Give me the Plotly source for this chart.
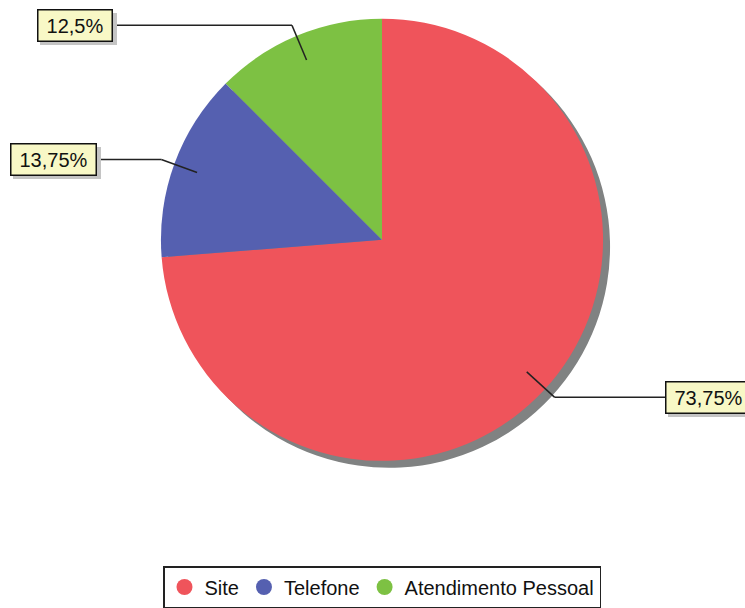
import math
import plotly.graph_objects as go

categories = ["Site", "Telefone", "Atendimento Pessoal"]
values = [73.75, 13.75, 12.5]
labels_text = ["73,75%", "13,75%", "12,5%"]
colors = ["#EF545B", "#5560B0", "#7DC143"]

W, H = 745, 608
CX, CY, R = 382, 243, 224
SHX, SHY = 7, 7

def px_to_paper(x, y):
    return x / W, 1 - y / H

fig = go.Figure()

# shadow pie
fig.add_trace(go.Pie(
    labels=categories, values=values, sort=False, direction="clockwise", rotation=0,
    marker=dict(colors=["#808282"] * 3, line=dict(width=0)),
    textinfo="none", hoverinfo="skip", showlegend=False,
    domain=dict(x=[(CX - R + SHX) / W, (CX + R + SHX) / W],
                y=[1 - (CY + R + SHY) / H, 1 - (CY - R + SHY) / H]),
))
# main pie
fig.add_trace(go.Pie(
    labels=categories, values=values, sort=False, direction="clockwise", rotation=0,
    marker=dict(colors=colors, line=dict(width=0)),
    textinfo="none", showlegend=False,
    domain=dict(x=[(CX - R) / W, (CX + R) / W],
                y=[1 - (CY + R) / H, 1 - (CY - R) / H]),
))

# legend entries with circle markers
for name, c in zip(categories, colors):
    fig.add_trace(go.Scatter(x=[None], y=[None], mode="markers", name=name,
                             marker=dict(symbol="circle", size=16, color=c)))

# label boxes (center x in px) and leader lines derived from slice mid-angles
box_cx = [708, 53, 74.5]
box_w = [86, 86, 75]
total = sum(values)
shapes = []
annotations = []
cum = 0
for v, txt, bx, bw in zip(values, labels_text, box_cx, box_w):
    mid = (cum + v / 2) / total * 2 * math.pi
    cum += v
    dx, dy = math.sin(mid), -math.cos(mid)
    x1, y1 = CX + dx * R * 0.88, CY + dy * R * 0.88
    x2, y2 = CX + dx * R * 1.05, CY + dy * R * 1.05
    edge = bx - bw / 2 if dx > 0 else bx + bw / 2
    for (a, b), (c, d) in [((x1, y1), (x2, y2)), ((x2, y2), (edge, y2))]:
        p0 = px_to_paper(a, b)
        p1 = px_to_paper(c, d)
        shapes.append(dict(type="line", xref="paper", yref="paper",
                           x0=p0[0], y0=p0[1], x1=p1[0], y1=p1[1],
                           line=dict(color="#222222", width=1.5)))
    # shadow box
    sx, sy = px_to_paper(bx + 4, y2 + 4)
    annotations.append(dict(x=sx, y=sy, xref="paper", yref="paper", text=" ",
                            showarrow=False, width=bw - 6, height=24, borderpad=3,
                            bgcolor="#C4C4C4", borderwidth=1, bordercolor="#C4C4C4",
                            xanchor="center", yanchor="middle",
                            font=dict(size=20, family="Liberation Sans, Arial")))
    ax_, ay_ = px_to_paper(bx, y2)
    annotations.append(dict(x=ax_, y=ay_, xref="paper", yref="paper", text=txt,
                            showarrow=False, width=bw - 8, height=24, borderpad=3,
                            bgcolor="#F8F8C6", borderwidth=1.5, bordercolor="#111111",
                            xanchor="center", yanchor="middle",
                            font=dict(size=20, color="#111111",
                                      family="Liberation Sans, Arial")))

fig.update_layout(
    width=W, height=H,
    margin=dict(l=0, r=0, t=0, b=0),
    paper_bgcolor="white", plot_bgcolor="white",
    xaxis=dict(visible=False), yaxis=dict(visible=False),
    shapes=shapes, annotations=annotations,
    showlegend=True,
    legend=dict(orientation="h", x=382 / W, xanchor="center",
                y=1 - 574 / H, yanchor="top",
                bgcolor="white", bordercolor="#222222", borderwidth=1.5,
                itemsizing="trace", itemwidth=30,
                font=dict(size=20, color="#111111", family="Liberation Sans, Arial")),
)

fig.write_html("out.html",
               config={"displayModeBar": False},
               post_script="document.body.style.margin='0';"
                           "document.body.style.overflow='hidden';")
